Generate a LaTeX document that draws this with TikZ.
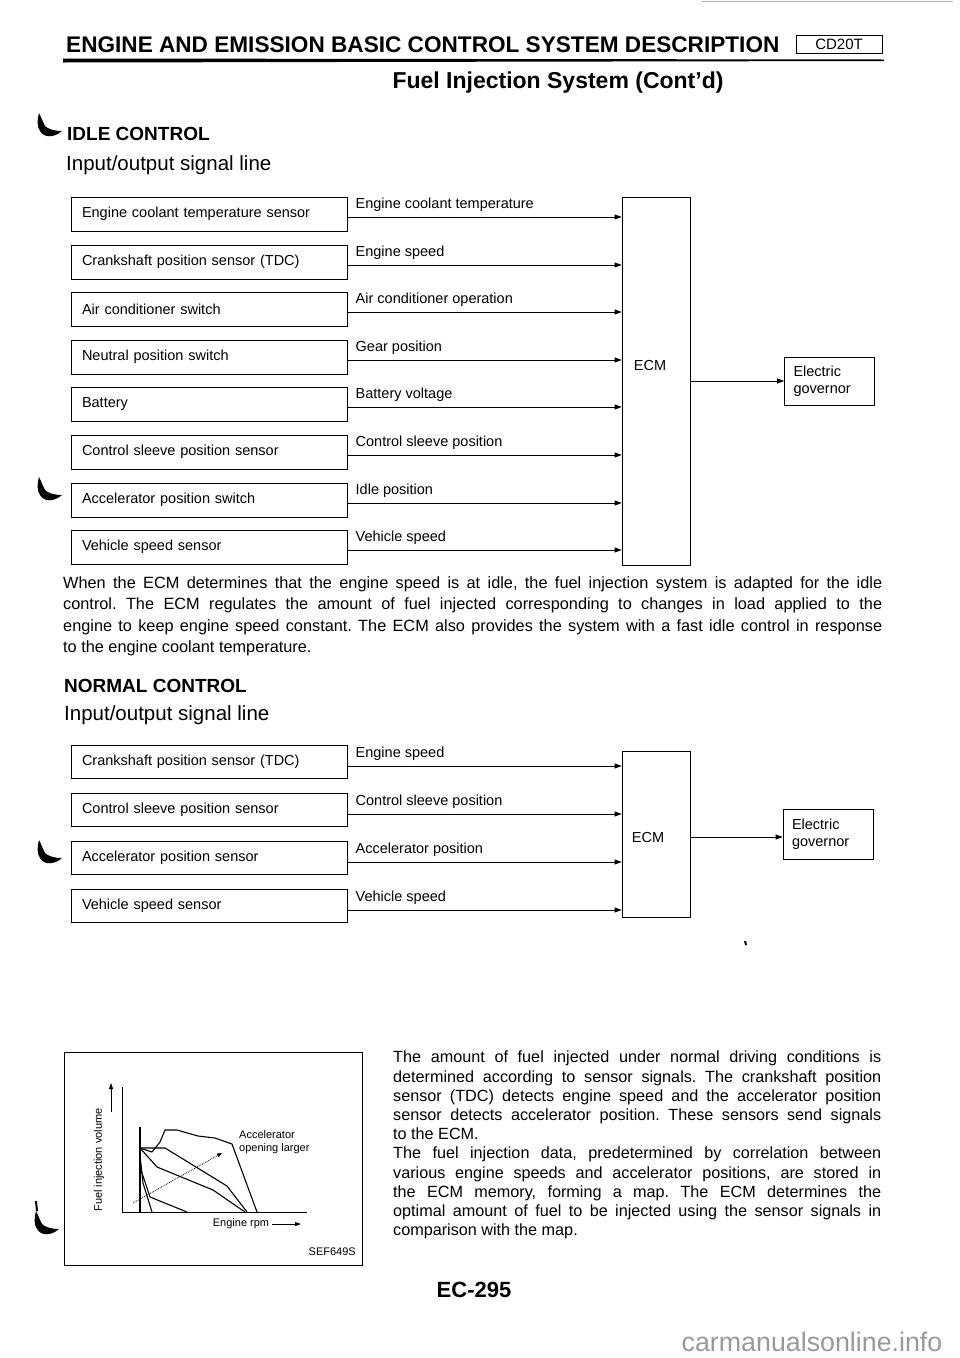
\documentclass[tikz,border=0pt]{standalone}
\usepackage{fontspec}
\setmainfont{Liberation Sans}
\usetikzlibrary{arrows.meta,positioning}
\frenchspacing

\tikzset{
  sensor/.style={draw, line width=0.7pt, text width=254pt, inner xsep=11pt, inner ysep=0pt,
    minimum height=34pt, align=left, font=\fontsize{14.5}{17}\selectfont},
  unit/.style={draw, line width=0.7pt, inner sep=0pt},
  sig/.style={line width=0.7pt, -{Triangle[length=7pt,width=5pt]}},
  siglabel/.style={anchor=base west, inner sep=0pt, font=\fontsize{14.5}{17}\selectfont},
  head/.style={anchor=west, inner sep=0pt, font=\fontsize{19}{22}\selectfont\bfseries},
  subhead/.style={anchor=west, inner sep=0pt, font=\fontsize{20.5}{24}\selectfont},
  body/.style={anchor=north west, inner sep=0pt, align=justify},
  small/.style={inner sep=0pt, font=\fontsize{11}{13}\selectfont},
  curve/.style={line width=1.1pt, line join=round},
  hookmark/.pic={
    \fill (2,0) .. controls (0,7) and (0,14) .. (3,18) .. controls (7,25) and (17,25) .. (25,18)
      .. controls (17,18) and (11,16) .. (8,13) .. controls (6,9) and (4,4) .. cycle;
  },
}

\begin{document}
\begin{tikzpicture}[x=1pt,y=-1pt]
\useasboundingbox (0,0) rectangle (960,1358);
\draw[gray!60, line width=0.8pt] (701,1) -- (953,1);

% page heading
\node[anchor=west, inner sep=0pt, font=\fontsize{22.6}{26}\selectfont\bfseries] (title) at (66,45)
  {ENGINE AND EMISSION BASIC CONTROL SYSTEM DESCRIPTION};
\node[draw, line width=0.8pt, inner sep=0pt, minimum width=86pt, minimum height=18pt,
  font=\fontsize{15}{15}\selectfont] (code) at (839,44) {CD20T};
\draw[line width=1.8pt] (code.south west) -- (code.south east) -- (code.north east);
\fill (63,58.5) -- (884,59.5) -- (884,61) -- (63,62.5) -- cycle;
\node[inner sep=0pt, font=\fontsize{23}{26}\selectfont\bfseries] (sub) at (558,83)
  {Fuel Injection System (Cont'd)};

% idle control
\pic at (37,113) {hookmark};
\node[head] (idle) at (67,134) {IDLE CONTROL};
\node[subhead] (ioA) at (66,165) {Input/output signal line};

\node[unit, minimum width=68pt, minimum height=368pt] (ecmA) at (656,381) {};
\node[inner sep=0pt, font=\fontsize{14.5}{17}\selectfont] (ecmAtxt) at (650,366) {ECM};
\node[unit, text width=72pt, inner xsep=9pt, minimum height=48pt, align=left,
  font=\fontsize{14.5}{17}\selectfont] (govA) at (829.5,381) {Electric\\governor};
\draw[sig] (ecmA.east |- govA.west) -- (govA.west);

\node[sensor] (a1) at (209,214) {Engine coolant temperature sensor};
\node[sensor] (a2) at (209,262) {Crankshaft position sensor (TDC)};
\node[sensor] (a3) at (209,309) {Air conditioner switch};
\node[sensor] (a4) at (209,357) {Neutral position switch};
\node[sensor] (a5) at (209,404) {Battery};
\node[sensor] (a6) at (209,452) {Control sleeve position sensor};
\node[sensor] (a7) at (209,500) {Accelerator position switch};
\node[sensor] (a8) at (209,547) {Vehicle speed sensor};
\pic at (37,477) {hookmark};

\draw[sig] ([yshift=-3pt]a1.east) -- ([yshift=-3pt]a1.east -| ecmA.west)
  node[siglabel, pos=0, xshift=8pt, yshift=9pt] {Engine coolant temperature};
\draw[sig] ([yshift=-3pt]a2.east) -- ([yshift=-3pt]a2.east -| ecmA.west)
  node[siglabel, pos=0, xshift=8pt, yshift=9pt] {Engine speed};
\draw[sig] ([yshift=-3pt]a3.east) -- ([yshift=-3pt]a3.east -| ecmA.west)
  node[siglabel, pos=0, xshift=8pt, yshift=9pt] {Air conditioner operation};
\draw[sig] ([yshift=-3pt]a4.east) -- ([yshift=-3pt]a4.east -| ecmA.west)
  node[siglabel, pos=0, xshift=8pt, yshift=9pt] {Gear position};
\draw[sig] ([yshift=-3pt]a5.east) -- ([yshift=-3pt]a5.east -| ecmA.west)
  node[siglabel, pos=0, xshift=8pt, yshift=9pt] {Battery voltage};
\draw[sig] ([yshift=-3pt]a6.east) -- ([yshift=-3pt]a6.east -| ecmA.west)
  node[siglabel, pos=0, xshift=8pt, yshift=9pt] {Control sleeve position};
\draw[sig] ([yshift=-3pt]a7.east) -- ([yshift=-3pt]a7.east -| ecmA.west)
  node[siglabel, pos=0, xshift=8pt, yshift=9pt] {Idle position};
\draw[sig] ([yshift=-3pt]a8.east) -- ([yshift=-3pt]a8.east -| ecmA.west)
  node[siglabel, pos=0, xshift=8pt, yshift=9pt] {Vehicle speed};

\node[body, text width=819pt, font=\fontsize{16.3}{21.5}\selectfont] (idletext) at (63,576)
  {When the ECM determines that the engine speed is at idle, the fuel injection system is adapted for the idle\linebreak
   control. The ECM regulates the amount of fuel injected corresponding to changes in load applied to the\linebreak
   engine to keep engine speed constant. The ECM also provides the system with a fast idle control in response\linebreak
   to the engine coolant temperature.};

% normal control
\node[head] (normal) at (64,686) {NORMAL CONTROL};
\node[subhead] (ioB) at (64,715) {Input/output signal line};

\node[unit, minimum width=68pt, minimum height=166pt] (ecmB) at (656,834) {};
\node[inner sep=0pt, font=\fontsize{14.5}{17}\selectfont] (ecmBtxt) at (648,837) {ECM};
\node[unit, text width=72pt, inner xsep=9pt, minimum height=50pt, align=left,
  font=\fontsize{14.5}{17}\selectfont] (govB) at (828,834) {Electric\\governor};
\draw[sig] ([yshift=-3pt]ecmB.east) -- ([yshift=-3pt]govB.west);

\node[sensor, minimum height=33pt] (b1) at (209,762) {Crankshaft position sensor (TDC)};
\node[sensor, minimum height=33pt] (b2) at (209,810) {Control sleeve position sensor};
\node[sensor, minimum height=33pt] (b3) at (209,858) {Accelerator position sensor};
\node[sensor, minimum height=33pt] (b4) at (209,906) {Vehicle speed sensor};
\pic at (37,840) {hookmark};

\draw[sig] ([yshift=-4pt]b1.east) -- ([yshift=-4pt]b1.east -| ecmB.west)
  node[siglabel, pos=0, xshift=8pt, yshift=9pt] {Engine speed};
\draw[sig] ([yshift=-4pt]b2.east) -- ([yshift=-4pt]b2.east -| ecmB.west)
  node[siglabel, pos=0, xshift=8pt, yshift=9pt] {Control sleeve position};
\draw[sig] ([yshift=-4pt]b3.east) -- ([yshift=-4pt]b3.east -| ecmB.west)
  node[siglabel, pos=0, xshift=8pt, yshift=9pt] {Accelerator position};
\draw[sig] ([yshift=-4pt]b4.east) -- ([yshift=-4pt]b4.east -| ecmB.west)
  node[siglabel, pos=0, xshift=8pt, yshift=9pt] {Vehicle speed};
\fill (744,941) -- (746,941) -- (747,945) -- (745,945) -- cycle;

% fuel map figure
\draw[line width=0.8pt] (64,1052) rectangle (362,1265);
\draw[line width=0.8pt] (122,1087) -- (122,1212) -- (307,1212);
\draw[line width=0.8pt, -{Triangle[length=6pt,width=4pt]}] (111,1112) -- (111,1083);
\node[small, rotate=90] (fiv) at (99,1160) {Fuel injection volume};
\node[small] (rpm) at (241,1224) {Engine rpm};
\coordinate (rpmtip) at (301,1224);
\draw[line width=0.8pt, -{Triangle[length=6pt,width=4pt]}] ([xshift=3pt]rpm.east) -- (rpmtip);
\node[small, anchor=east] (sef) at (356,1252) {SEF649S};
\node[small, anchor=north west, align=left] (acc) at (239,1130) {Accelerator\\opening larger};
\draw[line width=1.6pt] (140,1127) -- (140,1212);
\draw[curve] (140,1148) -- (152,1152) -- (160,1142) -- (165,1130) -- (177,1130) -- (198,1136)
  -- (215,1138) -- (232,1144) -- (257,1212);
\draw[curve] (140,1148) -- (165,1148) -- (227,1186) -- (247,1212);
\draw[curve] (140,1148) -- (157,1167) -- (213,1190) -- (245,1212);
\draw[curve] (140,1167) -- (150,1197) -- (187,1212);
\draw[curve] (140,1155) -- (143,1183) -- (152,1212);
\draw[densely dotted, line width=0.8pt, -{Triangle[length=5pt,width=4pt]}] (133,1203) -- (222,1153);
\fill (35,1201) -- (37,1201) -- (38,1211) -- (36,1211) -- cycle;
\pic at (34,1211) {hookmark};

\node[body, text width=488pt, font=\fontsize{16.2}{19.2}\selectfont] (normtext) at (393,1051)
  {The amount of fuel injected under normal driving conditions is\linebreak
   determined according to sensor signals. The crankshaft position\linebreak
   sensor (TDC) detects engine speed and the accelerator position\linebreak
   sensor detects accelerator position. These sensors send signals\linebreak
   to the ECM.\par
   The fuel injection data, predetermined by correlation between\linebreak
   various engine speeds and accelerator positions, are stored in\linebreak
   the ECM memory, forming a map. The ECM determines the\linebreak
   optimal amount of fuel to be injected using the sensor signals in\linebreak
   comparison with the map.};

\node[inner sep=0pt, font=\fontsize{22}{24}\selectfont\bfseries] (page) at (474,1290) {EC-295};
\node[inner sep=0pt, text=gray!80, font=\fontsize{26.8}{30}\selectfont] (mark) at (812,1342) {carmanualsonline.info};
\end{tikzpicture}
\end{document}
